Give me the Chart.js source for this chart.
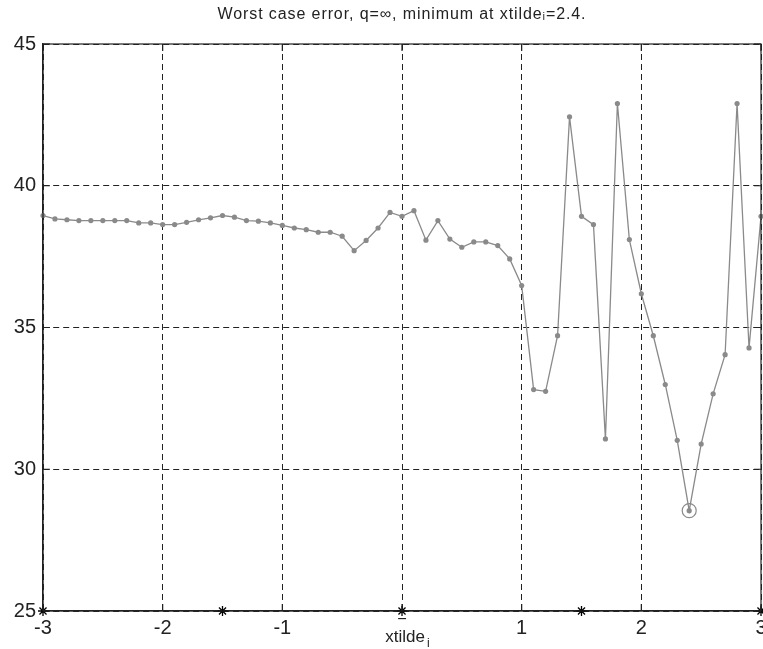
<!DOCTYPE html>
<html>
<head>
<meta charset="utf-8">
<script src="https://cdn.jsdelivr.net/npm/chart.js@4"></script>
<style>
  html, body { margin: 0; padding: 0; background: #fff; }
  #wrap { width: 763px; height: 649px; }
</style>
</head>
<body>
<div id="wrap"><canvas id="errorChart" width="763" height="649"></canvas></div>
<script>
// 横軸の位置 (xtilde_i)
const xPositions = [
  -3.0, -2.9, -2.8, -2.7, -2.6, -2.5, -2.4, -2.3, -2.2, -2.1,
  -2.0, -1.9, -1.8, -1.7, -1.6, -1.5, -1.4, -1.3, -1.2, -1.1,
  -1.0, -0.9, -0.8, -0.7, -0.6, -0.5, -0.4, -0.3, -0.2, -0.1,
  0.0, 0.1, 0.2, 0.3, 0.4, 0.5, 0.6, 0.7, 0.8, 0.9,
  1.0, 1.1, 1.2, 1.3, 1.4, 1.5, 1.6, 1.7, 1.8, 1.9,
  2.0, 2.1, 2.2, 2.3, 2.4, 2.5, 2.6, 2.7, 2.8, 2.9, 3.0
];
// 最悪ケース誤差
const worstError = [
  38.95, 38.83, 38.80, 38.77, 38.77, 38.77, 38.77, 38.77, 38.69, 38.69,
  38.63, 38.63, 38.71, 38.80, 38.87, 38.95, 38.89, 38.77, 38.75, 38.69,
  38.60, 38.51, 38.45, 38.36, 38.36, 38.22, 37.71, 38.07, 38.51, 39.06,
  38.92, 39.12, 38.08, 38.77, 38.12, 37.83, 38.02, 38.02, 37.89, 37.42,
  36.48, 32.81, 32.75, 34.71, 42.43, 38.92, 38.63, 31.07, 42.90, 38.10,
  36.19, 34.71, 32.99, 31.02, 28.54, 30.89, 32.66, 34.04, 42.90, 34.28, 38.92
];
// 軸上の * 印
const nodeX = [-3, -1.5, 0, 1.5, 3];
const nodeY = [25, 25, 25, 25, 25];
// 最小点
const minX = [2.4];
const minY = [28.54];
// 目盛り
const xTicks = [-3, -2, -1, 0, 1, 2, 3];
const xTickLabels = ['-3', '-2', '-1', '\u203e', '1', '2', '3'];
const yTicks = [25, 30, 35, 40, 45];

const titleText = 'Worst case error, q=\u221e, minimum at xtilde\u1d62=2.4.';
const fontFamily = '"Liberation Sans", Arial, sans-serif';

// タイトル・枠・内向き目盛り・x軸ラベルを描く
const framePlugin = {
  id: 'frame',
  afterDraw(chart) {
    const { ctx, chartArea: a, scales } = chart;
    ctx.save();
    ctx.strokeStyle = '#222';
    ctx.lineWidth = 1.2;
    ctx.strokeRect(a.left, a.top, a.right - a.left, a.bottom - a.top);
    ctx.beginPath();
    xTicks.forEach((v) => {
      const px = scales.x.getPixelForValue(v);
      ctx.moveTo(px, a.top); ctx.lineTo(px, a.top + 7);
      ctx.moveTo(px, a.bottom); ctx.lineTo(px, a.bottom - 7);
    });
    yTicks.forEach((v) => {
      const py = scales.y.getPixelForValue(v);
      ctx.moveTo(a.left, py); ctx.lineTo(a.left + 7, py);
      ctx.moveTo(a.right, py); ctx.lineTo(a.right - 7, py);
    });
    ctx.stroke();

    ctx.fillStyle = '#222';
    ctx.textAlign = 'center';

    // x軸の目盛りラベル
    ctx.font = '20px ' + fontFamily;
    ctx.textBaseline = 'alphabetic';
    xTicks.forEach((v, i) => {
      ctx.fillText(xTickLabels[i], scales.x.getPixelForValue(v), a.bottom + 23);
    });

    // x軸タイトル (xtilde_i)
    const cx = (a.left + a.right) / 2;
    ctx.font = '17px ' + fontFamily;
    ctx.textAlign = 'right';
    ctx.fillText('xtilde', cx + 23, a.bottom + 31);
    ctx.font = '12px ' + fontFamily;
    ctx.textAlign = 'left';
    ctx.fillText('i', cx + 25, a.bottom + 36);

    // タイトル
    ctx.font = '16px ' + fontFamily;
    ctx.letterSpacing = '0.9px';
    ctx.textAlign = 'center';
    ctx.textBaseline = 'middle';
    ctx.fillText(titleText, cx, 15);
    ctx.restore();
  }
};

const ctx = document.getElementById('errorChart').getContext('2d');
new Chart(ctx, {
  type: 'line',
  data: {
    datasets: [
      {
        label: 'min',
        data: minX.map((x, i) => ({ x, y: minY[i] })),
        showLine: false,
        pointStyle: 'circle',
        pointRadius: 7,
        pointBorderWidth: 1.2,
        borderColor: '#8a8a8a',
        backgroundColor: 'rgba(0,0,0,0)',
        clip: false,
      },
      {
        label: 'error',
        data: xPositions.map((x, i) => ({ x, y: worstError[i] })),
        borderColor: '#8a8a8a',
        backgroundColor: '#8a8a8a',
        borderWidth: 1.3,
        pointRadius: 2.6,
        pointBorderWidth: 0,
        tension: 0,
        clip: false,
      },
      {
        label: 'nodes',
        data: nodeX.map((x, i) => ({ x, y: nodeY[i] })),
        showLine: false,
        pointStyle: 'star',
        pointRadius: 5,
        pointBorderWidth: 1.3,
        borderColor: '#000',
        backgroundColor: '#000',
        clip: false,
      },
    ],
  },
  options: {
    responsive: false,
    animation: false,
    layout: { autoPadding: false, padding: { top: 44, right: 2, left: 0, bottom: 0 } },
    plugins: {
      legend: { display: false },
      title: { display: false },
      tooltip: { enabled: false },
    },
    scales: {
      x: {
        type: 'linear',
        min: -3,
        max: 3,
        afterBuildTicks: (scale) => { scale.ticks = xTicks.map((v) => ({ value: v })); },
        afterFit: (scale) => { scale.height = 38; },
        grid: { color: '#222', lineWidth: 1, drawTicks: false },
        border: { display: true, color: '#222', width: 1.2, dash: [6, 4] },
        ticks: { display: false },
      },
      y: {
        min: 25,
        max: 45,
        afterBuildTicks: (scale) => { scale.ticks = yTicks.map((v) => ({ value: v })); },
        afterFit: (scale) => { scale.width = 43; },
        grid: { color: '#222', lineWidth: 1, drawTicks: false },
        border: { display: true, color: '#222', width: 1.2, dash: [6, 4] },
        ticks: {
          padding: 7,
          color: '#222',
          font: { family: fontFamily, size: 20 },
        },
      },
    },
  },
  plugins: [framePlugin],
});
</script>
</body>
</html>
